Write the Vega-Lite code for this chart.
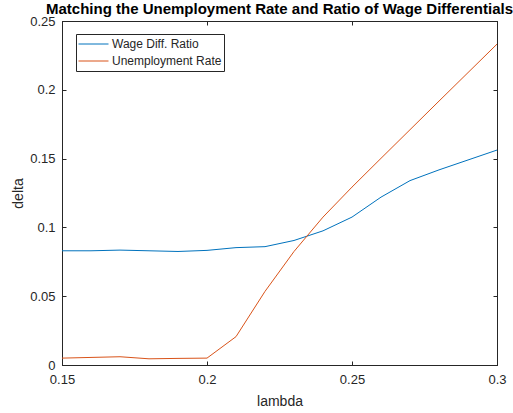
{
  "$schema": "https://vega.github.io/schema/vega-lite/v6.json",
  "width": 435,
  "height": 344,
  "autosize": {"type": "none"},
  "padding": {"left": 62, "top": 21, "right": 16, "bottom": 48},
  "background": "white",
  "title": {
    "text": "Matching the Unemployment Rate and Ratio of Wage Differentials",
    "font": "Liberation Sans",
    "fontSize": 15,
    "fontWeight": "bold",
    "color": "black",
    "anchor": "middle",
    "offset": -2
  },
  "config": {
    "view": {"stroke": "#262626", "strokeWidth": 1},
    "axis": {
      "labelFont": "Liberation Sans",
      "titleFont": "Liberation Sans",
      "labelFontSize": 13,
      "titleFontSize": 14,
      "titleFontWeight": "normal",
      "labelColor": "#262626",
      "titleColor": "#262626",
      "domainColor": "#262626",
      "tickColor": "#262626",
      "grid": false,
      "tickSize": -4
    }
  },
  "data": {
    "values": [
      {"lambda": 0.15, "series": "Wage Diff. Ratio", "delta": 0.083},
      {"lambda": 0.16, "series": "Wage Diff. Ratio", "delta": 0.083},
      {"lambda": 0.17, "series": "Wage Diff. Ratio", "delta": 0.0835},
      {"lambda": 0.18, "series": "Wage Diff. Ratio", "delta": 0.083},
      {"lambda": 0.19, "series": "Wage Diff. Ratio", "delta": 0.0825},
      {"lambda": 0.20, "series": "Wage Diff. Ratio", "delta": 0.0833},
      {"lambda": 0.21, "series": "Wage Diff. Ratio", "delta": 0.0853},
      {"lambda": 0.22, "series": "Wage Diff. Ratio", "delta": 0.086},
      {"lambda": 0.23, "series": "Wage Diff. Ratio", "delta": 0.0905},
      {"lambda": 0.24, "series": "Wage Diff. Ratio", "delta": 0.0975},
      {"lambda": 0.25, "series": "Wage Diff. Ratio", "delta": 0.1075},
      {"lambda": 0.26, "series": "Wage Diff. Ratio", "delta": 0.122},
      {"lambda": 0.27, "series": "Wage Diff. Ratio", "delta": 0.134},
      {"lambda": 0.28, "series": "Wage Diff. Ratio", "delta": 0.1418},
      {"lambda": 0.29, "series": "Wage Diff. Ratio", "delta": 0.149},
      {"lambda": 0.30, "series": "Wage Diff. Ratio", "delta": 0.1562},
      {"lambda": 0.15, "series": "Unemployment Rate", "delta": 0.005},
      {"lambda": 0.16, "series": "Unemployment Rate", "delta": 0.0055},
      {"lambda": 0.17, "series": "Unemployment Rate", "delta": 0.006},
      {"lambda": 0.18, "series": "Unemployment Rate", "delta": 0.0045},
      {"lambda": 0.19, "series": "Unemployment Rate", "delta": 0.0048},
      {"lambda": 0.20, "series": "Unemployment Rate", "delta": 0.005},
      {"lambda": 0.21, "series": "Unemployment Rate", "delta": 0.0206},
      {"lambda": 0.22, "series": "Unemployment Rate", "delta": 0.0535},
      {"lambda": 0.23, "series": "Unemployment Rate", "delta": 0.0825},
      {"lambda": 0.24, "series": "Unemployment Rate", "delta": 0.1075},
      {"lambda": 0.25, "series": "Unemployment Rate", "delta": 0.1293},
      {"lambda": 0.26, "series": "Unemployment Rate", "delta": 0.1502},
      {"lambda": 0.27, "series": "Unemployment Rate", "delta": 0.171},
      {"lambda": 0.28, "series": "Unemployment Rate", "delta": 0.1918},
      {"lambda": 0.29, "series": "Unemployment Rate", "delta": 0.2125},
      {"lambda": 0.30, "series": "Unemployment Rate", "delta": 0.2332}
    ]
  },
  "layer": [
    {
      "mark": {"type": "line", "strokeWidth": 1, "clip": true},
      "encoding": {
        "x": {
          "field": "lambda",
          "type": "quantitative",
          "scale": {"domain": [0.15, 0.3], "nice": false, "zero": false},
          "axis": {
            "title": "lambda",
            "values": [0.15, 0.2, 0.25, 0.3],
            "format": "~g",
            "labelPadding": 12,
            "titlePadding": 8,
            "labelFlush": false
          }
        },
        "y": {
          "field": "delta",
          "type": "quantitative",
          "scale": {"domain": [0, 0.25], "nice": false},
          "axis": {
            "title": "delta",
            "values": [0, 0.05, 0.1, 0.15, 0.2, 0.25],
            "format": "~g",
            "labelPadding": 11,
            "titlePadding": 4,
            "labelFlush": false
          }
        },
        "color": {
          "field": "series",
          "type": "nominal",
          "scale": {
            "domain": ["Wage Diff. Ratio", "Unemployment Rate"],
            "range": ["#0072BD", "#D95319"]
          },
          "legend": {
            "title": null,
            "orient": "none",
            "legendX": 14,
            "legendY": 13,
            "symbolType": "stroke",
            "symbolSize": 900,
            "symbolStrokeWidth": 1,
            "clipHeight": 16,
            "labelFont": "Liberation Sans",
            "labelFontSize": 12,
            "labelColor": "#262626",
            "labelOffset": 3,
            "rowPadding": 1,
            "strokeColor": "#262626",
            "fillColor": "white",
            "padding": 2
          }
        }
      }
    },
    {
      "mark": {"type": "point", "opacity": 0},
      "encoding": {
        "x": {
          "field": "lambda",
          "type": "quantitative",
          "axis": {
            "orient": "top",
            "title": null,
            "labels": false,
            "values": [0.15, 0.2, 0.25, 0.3]
          }
        },
        "y": {
          "field": "delta",
          "type": "quantitative",
          "axis": {
            "orient": "right",
            "title": null,
            "labels": false,
            "values": [0, 0.05, 0.1, 0.15, 0.2, 0.25]
          }
        }
      }
    }
  ],
  "resolve": {"axis": {"x": "independent", "y": "independent"}}
}
